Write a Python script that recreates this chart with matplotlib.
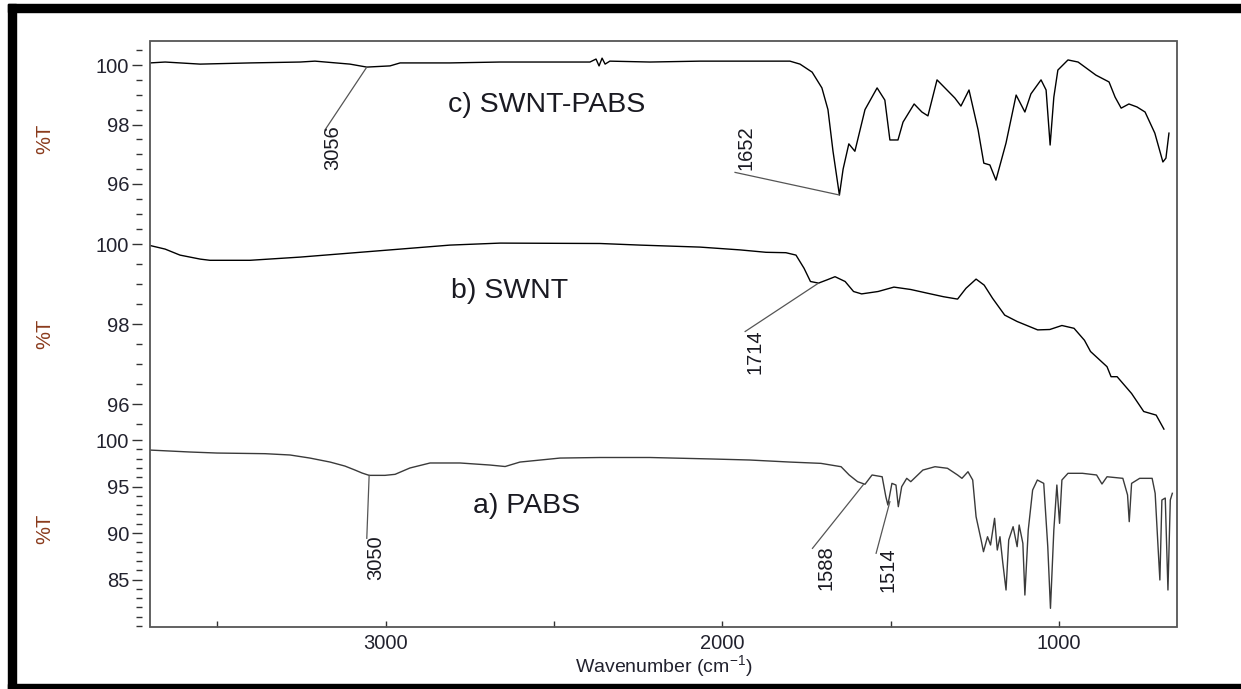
import matplotlib
matplotlib.use("Agg")
import matplotlib.pyplot as plt
from matplotlib.patches import Rectangle
from matplotlib.ticker import MultipleLocator, FixedLocator

plt.rcParams['font.family'] = ['Liberation Sans', 'DejaVu Sans']
plt.rcParams['mathtext.fontset'] = 'custom'
plt.rcParams['mathtext.rm'] = 'Liberation Sans'
plt.rcParams['mathtext.it'] = 'Liberation Sans'

# ---------------- data ----------------
# c) SWNT-PABS
c_wn = [3700, 3655, 3551, 3403, 3254, 3210, 3106, 3056, 2987, 2957, 2809, 2660, 2512, 2393, 2375,
        2366, 2357, 2348, 2334, 2215, 2066, 1918, 1799, 1769, 1733, 1704, 1686, 1671, 1652, 1641,
        1624, 1606, 1576, 1540, 1517, 1502, 1478, 1463, 1430, 1407, 1389, 1362, 1309, 1291, 1267,
        1240, 1223, 1205, 1187, 1157, 1127, 1101, 1083, 1053, 1038, 1026, 1015, 1003, 973, 943,
        890, 851, 833, 815, 792, 768, 744, 715, 691, 682, 673]
c_T = [100.07, 100.10, 100.03, 100.07, 100.10, 100.13, 100.03, 99.93, 99.97, 100.07, 100.07, 100.10,
       100.10, 100.10, 100.20, 99.97, 100.23, 100.03, 100.13, 100.10, 100.13, 100.13, 100.13, 100.03,
       99.76, 99.23, 98.50, 97.10, 95.63, 96.50, 97.35, 97.10, 98.50, 99.23, 98.82, 97.48, 97.48,
       98.08, 98.69, 98.42, 98.29, 99.50, 98.89, 98.62, 99.16, 97.82, 96.70, 96.64, 96.13, 97.38,
       98.99, 98.42, 99.03, 99.50, 99.16, 97.31, 98.92, 99.83, 100.17, 100.10, 99.66, 99.43, 98.92,
       98.55, 98.69, 98.59, 98.42, 97.71, 96.74, 96.87, 97.71]

# b) SWNT
b_wn = [3700, 3655, 3611, 3551, 3522, 3403, 3254, 3165, 3076, 2957, 2809, 2660, 2363, 2244, 2066,
        1947, 1870, 1811, 1781, 1757, 1738, 1714, 1689, 1665, 1635, 1610, 1586, 1537, 1490, 1440,
        1392, 1343, 1301, 1276, 1246, 1222, 1197, 1161, 1124, 1063, 1027, 991, 955, 924, 906,
        857, 845, 827, 784, 748, 711, 688]
b_T = [99.97, 99.88, 99.73, 99.63, 99.60, 99.60, 99.68, 99.74, 99.80, 99.88, 99.98, 100.03, 100.02,
       99.98, 99.93, 99.86, 99.80, 99.79, 99.73, 99.40, 99.07, 99.03, 99.11, 99.19, 99.07, 98.82,
       98.76, 98.82, 98.93, 98.87, 98.78, 98.69, 98.63, 98.90, 99.13, 98.98, 98.65, 98.23, 98.07,
       97.86, 97.87, 97.97, 97.90, 97.60, 97.32, 96.94, 96.69, 96.69, 96.27, 95.82, 95.73, 95.38]

# a) PABS
a_wn = [3700, 3581, 3501, 3358, 3284, 3225, 3165, 3121, 3091, 3070, 3049, 3002, 2972, 2928, 2868,
        2779, 2690, 2645, 2601, 2482, 2363, 2215, 2030, 1918, 1799, 1707, 1647, 1623, 1598, 1576,
        1555, 1525, 1514, 1508, 1496, 1484, 1477, 1467, 1452, 1440, 1404, 1368, 1331, 1301, 1288,
        1270, 1256, 1246, 1231, 1224, 1212, 1203, 1191, 1183, 1175, 1167, 1157, 1149, 1136, 1124,
        1118, 1107, 1101, 1091, 1078, 1064, 1045, 1033, 1025, 1015, 1006, 998, 991, 973, 930,
        888, 872, 857, 810, 796, 791, 784, 760, 723, 714, 706, 700, 694, 684, 676, 669, 663]
a_T = [98.92, 98.71, 98.60, 98.53, 98.39, 98.06, 97.63, 97.20, 96.77, 96.45, 96.20, 96.20, 96.31,
       96.99, 97.53, 97.53, 97.31, 97.15, 97.63, 98.06, 98.12, 98.12, 97.96, 97.85, 97.63, 97.49,
       97.13, 96.24, 95.52, 95.24, 96.24, 96.05, 93.90, 93.01, 95.34, 95.16, 92.83, 94.98, 95.88,
       95.52, 96.77, 97.13, 96.96, 96.24, 95.88, 96.59, 95.70, 91.75, 89.25, 87.99, 89.60, 88.71,
       91.58, 88.17, 89.60, 86.91, 83.87, 89.25, 90.68, 88.53, 90.86, 88.89, 83.33, 90.32, 94.62,
       95.70, 95.34, 88.53, 81.90, 90.32, 95.16, 91.04, 95.70, 96.42, 96.42, 96.24, 95.27, 96.05,
       95.88, 94.09, 91.22, 95.34, 95.88, 95.88, 94.27, 88.89, 84.95, 93.55, 93.76, 83.87, 93.55,
       94.27]

panel_titles = ["c) SWNT-PABS", "b) SWNT", "a) PABS"]
x_ticklabels = ["3000", "2000", "1000"]
y_label = "%T"
x_label = "Wavenumber (cm$^{\u22121}$)"

# annotations: label, peak (wn, T), line end (wn, T), text centre (wn, T)
ann_c = [("3056", (3056, 99.93), (3180, 97.82), (3156, 97.21)),
         ("1652", (1652, 95.63), (1962, 96.39), (1929, 97.21))]
ann_b = [("1714", (1714, 99.03), (1932, 97.82), (1903, 97.31))]
ann_a = [("3050", (3049, 96.20), (3056, 89.43), (3029, 87.31)),
         ("1588", (1580, 95.24), (1732, 88.35), (1692, 86.24)),
         ("1514", (1502, 93.37), (1543, 87.82), (1508, 86.02))]

# ---------------- figure ----------------
W, H = 1241, 689
fig = plt.figure(figsize=(W / 100, H / 100), dpi=100)

L, R = 150, 1176.7
def pos(top, bot):
    return [L / W, (H - bot) / H, (R - L) / W, (bot - top) / H]

ax_c = fig.add_axes(pos(40.7, 236))
ax_b = fig.add_axes(pos(236, 431))
ax_a = fig.add_axes(pos(431, 627.3))

ylims = {ax_c: (94.252, 100.817), ax_b: (95.3325, 100.2075), ax_a: (79.86, 100.97)}
tick_col = '#22222e'

panels = [
    (ax_c, c_wn, c_T, 'black', panel_titles[0], (2521, 98.66), ann_c, [96, 98, 100], 0.5),
    (ax_b, b_wn, b_T, 'black', panel_titles[1], (2631, 98.83), ann_b, [96, 98, 100], 0.5),
    (ax_a, a_wn, a_T, '#3a3a3a', panel_titles[2], (2580, 92.9), ann_a, [85, 90, 95, 100], 1.0),
]

for ax, wn, T, col, title, tpos, anns, majors, minor in panels:
    ax.plot(wn, T, color=col, lw=1.0)
    ax.set_xlim(3700, 650)
    ax.set_ylim(*ylims[ax])
    for s in ax.spines.values():
        s.set_visible(False)
    ax.spines['left'].set_position(('outward', 6))
    ax.yaxis.set_major_locator(FixedLocator(majors))
    ax.yaxis.set_minor_locator(MultipleLocator(minor))
    ax.tick_params(axis='y', which='major', direction='out', length=7.5, width=1.0,
                   color='#333333', labelsize=14.5, labelcolor=tick_col, pad=1.5)
    ax.tick_params(axis='y', which='minor', direction='out', length=4, width=1.0, color='#333333')
    ax.patch.set_visible(False)
    ax.text(tpos[0], tpos[1], title, ha='center', va='center', fontsize=20.5, color='#1a1a22')
    for lab, pk, end, tc in anns:
        ax.plot([end[0], pk[0]], [end[1], pk[1]], color='#555555', lw=0.9)
        ax.text(tc[0], tc[1], lab, rotation=90, ha='center', va='center', fontsize=14.5,
                color='#1a1a22')

for ax in (ax_c, ax_b):
    ax.tick_params(axis='x', which='both', bottom=False, labelbottom=False)

ax_a.xaxis.set_major_locator(FixedLocator([3000, 2000, 1000]))
ax_a.xaxis.set_minor_locator(FixedLocator([3500, 2500, 1500]))
ax_a.set_xticklabels(x_ticklabels)
ax_a.tick_params(axis='x', which='both', direction='in', length=4, width=1.0, color='#333333',
                 labelsize=14.5, labelcolor=tick_col, pad=5)
ax_a.set_xlabel(x_label, fontsize=14, color=tick_col, labelpad=0)

# y labels
for ax in (ax_c, ax_b, ax_a):
    p = ax.get_position()
    fig.text(45 / W, p.y0 + p.height / 2, y_label, rotation=90, ha='center', va='center',
             fontsize=14.5, color='#8a3b1c')

# outer plot box
fig.patches.append(Rectangle((L / W, (H - 627.3) / H), (R - L) / W, (627.3 - 40.7) / H,
                             transform=fig.transFigure, fill=False, edgecolor='#555555',
                             lw=1.3, zorder=5))
# black frame of the picture
for (x0, y0, w, h) in [(8, 4, 8, 685), (8, 4, 1233, 8), (8, 684, 1233, 5)]:
    fig.patches.append(Rectangle((x0 / W, (H - y0 - h) / H), w / W, h / H,
                                 transform=fig.transFigure, color='black', zorder=6))

fig.savefig("out.png", dpi=100)
